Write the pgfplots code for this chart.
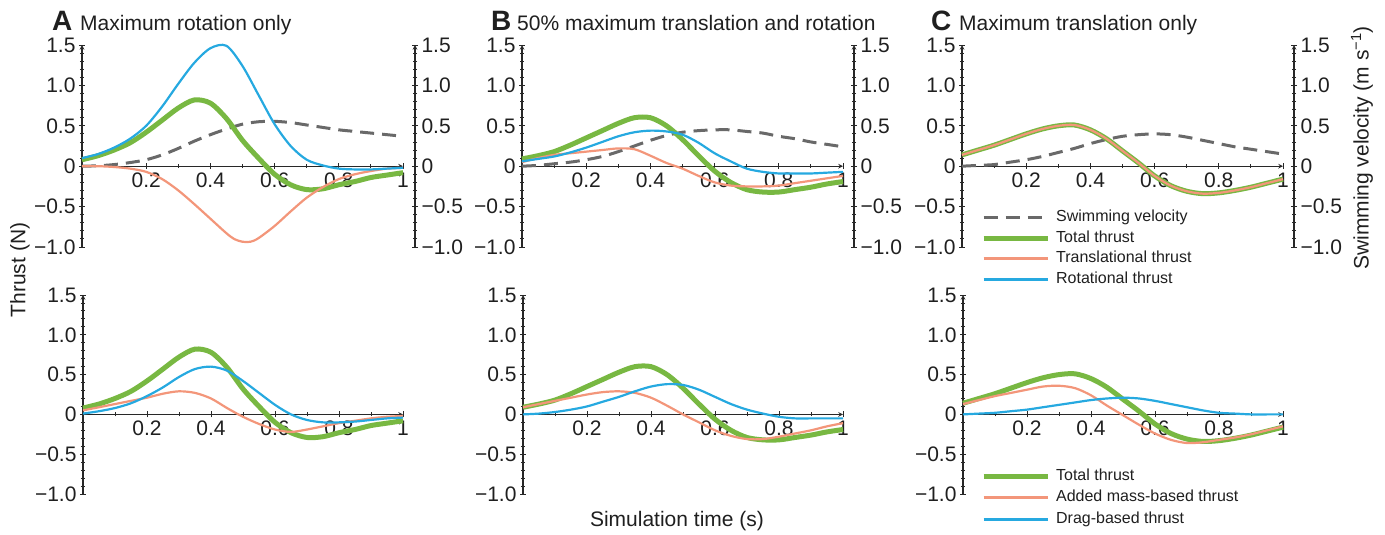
\documentclass[border=0pt]{standalone}
\usepackage{fontspec}
\setmainfont{Liberation Sans}
\usepackage{pgfplots}
\usepackage{pgfplotstable}
\pgfplotsset{compat=1.18}
\definecolor{cgreen}{RGB}{120,184,66}
\definecolor{cblue}{RGB}{38,169,224}
\definecolor{corange}{RGB}{243,150,122}
\definecolor{cgray}{RGB}{105,105,105}
\definecolor{caxis}{RGB}{40,40,40}
\newcommand\fs[1]{\fontsize{#1}{#1}\selectfont}

\pgfplotstableread{
t rot trans total vel
0.00 0.10 0.00 0.08 0.000
0.05 0.15 0.00 0.13 0.005
0.10 0.23 -0.01 0.20 0.020
0.15 0.34 -0.03 0.29 0.045
0.20 0.50 -0.07 0.42 0.080
0.25 0.74 -0.16 0.57 0.140
0.30 1.02 -0.30 0.72 0.220
0.35 1.28 -0.47 0.82 0.310
0.40 1.46 -0.65 0.78 0.390
0.45 1.49 -0.83 0.59 0.460
0.50 1.24 -0.93 0.32 0.520
0.55 0.88 -0.89 0.10 0.550
0.60 0.52 -0.74 -0.10 0.555
0.65 0.25 -0.56 -0.23 0.540
0.70 0.08 -0.39 -0.29 0.510
0.75 0.01 -0.26 -0.28 0.480
0.80 -0.03 -0.16 -0.23 0.450
0.85 -0.04 -0.10 -0.19 0.430
0.90 -0.04 -0.06 -0.14 0.410
0.95 -0.03 -0.03 -0.11 0.390
1.00 -0.02 -0.02 -0.08 0.370
}\topA

\pgfplotstableread{
t trans
0.00 0.00
0.05 0.00
0.10 -0.01
0.15 -0.03
0.20 -0.07
0.25 -0.16
0.30 -0.30
0.35 -0.47
0.40 -0.65
0.45 -0.83
0.475 -0.903
0.50 -0.935
0.525 -0.935
0.55 -0.89
0.60 -0.74
0.65 -0.56
0.70 -0.39
0.75 -0.26
0.80 -0.16
0.85 -0.10
0.90 -0.06
0.95 -0.03
1.00 -0.02
}\topAtrans

\pgfplotstableread{
t rot trans total vel
0.00 0.06 0.05 0.09 0.00
0.05 0.09 0.10 0.13 0.01
0.10 0.12 0.14 0.18 0.03
0.15 0.17 0.16 0.26 0.05
0.20 0.23 0.18 0.35 0.08
0.25 0.30 0.20 0.44 0.12
0.30 0.37 0.22 0.53 0.18
0.35 0.42 0.21 0.60 0.25
0.40 0.44 0.13 0.60 0.32
0.45 0.43 0.04 0.50 0.38
0.50 0.39 -0.03 0.33 0.42
0.55 0.29 -0.12 0.13 0.44
0.60 0.16 -0.20 -0.06 0.45
0.65 0.06 -0.24 -0.20 0.45
0.70 -0.03 -0.25 -0.29 0.43
0.75 -0.07 -0.25 -0.32 0.41
0.80 -0.09 -0.24 -0.32 0.37
0.85 -0.09 -0.21 -0.29 0.34
0.90 -0.09 -0.18 -0.26 0.30
0.95 -0.08 -0.15 -0.22 0.27
1.00 -0.07 -0.12 -0.19 0.24
}\topB

\pgfplotstableread{
t total vel
0.00 0.14 0.00
0.05 0.20 0.01
0.10 0.26 0.02
0.15 0.33 0.05
0.20 0.40 0.08
0.25 0.46 0.12
0.30 0.50 0.17
0.35 0.51 0.22
0.40 0.45 0.28
0.45 0.34 0.33
0.50 0.19 0.37
0.55 0.04 0.39
0.60 -0.12 0.40
0.65 -0.24 0.39
0.70 -0.31 0.36
0.75 -0.34 0.32
0.80 -0.33 0.28
0.85 -0.30 0.24
0.90 -0.26 0.21
0.95 -0.21 0.18
1.00 -0.16 0.15
}\topC

\pgfplotstableread{
t drag added
0.00 0.01 0.05
0.05 0.04 0.09
0.10 0.08 0.13
0.15 0.14 0.17
0.20 0.23 0.21
0.25 0.34 0.26
0.30 0.47 0.29
0.35 0.57 0.27
0.40 0.60 0.20
0.45 0.55 0.08
0.50 0.42 -0.03
0.55 0.27 -0.12
0.60 0.12 -0.19
0.65 0.00 -0.22
0.70 -0.07 -0.19
0.75 -0.10 -0.15
0.80 -0.10 -0.11
0.85 -0.09 -0.08
0.90 -0.07 -0.05
0.95 -0.05 -0.03
1.00 -0.04 -0.02
}\botA

\pgfplotstableread{
t drag added
0.00 0.00 0.09
0.05 0.01 0.13
0.10 0.03 0.17
0.15 0.06 0.21
0.20 0.10 0.25
0.25 0.16 0.28
0.30 0.22 0.29
0.35 0.29 0.27
0.40 0.35 0.21
0.45 0.38 0.11
0.50 0.37 0.00
0.55 0.31 -0.10
0.60 0.22 -0.20
0.65 0.13 -0.27
0.70 0.06 -0.31
0.75 0.01 -0.31
0.80 -0.03 -0.28
0.85 -0.05 -0.24
0.90 -0.05 -0.20
0.95 -0.05 -0.15
1.00 -0.05 -0.11
}\botB

\pgfplotstableread{
t drag added
0.00 0.00 0.13
0.05 0.01 0.18
0.10 0.02 0.23
0.15 0.04 0.27
0.20 0.06 0.31
0.25 0.09 0.35
0.30 0.12 0.36
0.35 0.15 0.33
0.40 0.18 0.24
0.45 0.20 0.11
0.50 0.21 -0.01
0.55 0.20 -0.13
0.60 0.17 -0.24
0.65 0.13 -0.32
0.70 0.09 -0.36
0.75 0.05 -0.35
0.80 0.02 -0.32
0.85 0.01 -0.29
0.90 0.00 -0.25
0.95 0.00 -0.20
1.00 0.00 -0.15
}\botC

\pgfplotsset{
  yax/.style={
    scale only axis, xmin=0, xmax=1, ymin=-1, ymax=1.5,
    axis line style={-, caxis, line width=1.1pt},
    ytick={-1,-0.5,0,0.5,1,1.5},
    yticklabels={−1.0,−0.5,0,0.5,1.0,1.5},
    minor ytick={-0.9,-0.8,-0.7,-0.6,-0.4,-0.3,-0.2,-0.1,0.1,0.2,0.3,0.4,0.6,0.7,0.8,0.9,1.1,1.2,1.3,1.4},
    tick align=inside,
    major tick length=6pt, minor tick length=4pt,
    tick style={caxis, line width=0.9pt},
    ticklabel style={font=\fs{21}, text=black!88},
    clip=false,
  },
  panel/.style={yax, height=#1,
    axis x line=middle, axis y line=left,
    xtick={0.2,0.4,0.6,0.8,1}, xticklabels={0.2,0.4,0.6,0.8,1},
    minor xtick={0.1,0.3,0.5,0.7,0.9},
  },
  rightax/.style={yax, height=#1,
    axis x line=none, axis y line=right, xtick=\empty,
  },
  gline/.style={cgreen, line width=5pt, smooth},
  oline/.style={corange, line width=2.2pt, smooth},
  bline/.style={cblue, line width=2.2pt, smooth},
  vline/.style={cgray, line width=3pt, dash pattern=on 14pt off 8pt, smooth},
  legend image code/.code={\draw[#1] (0pt,0pt) -- (64pt,0pt);},
}

\begin{document}
\begin{tikzpicture}
\path[use as bounding box] (0,0) rectangle (1385pt,535pt);

% ---------- top A ----------
\begin{axis}[panel=202pt, width=321pt, at={(82pt,288pt)}, anchor=south west]
\addplot[vline] table[x=t,y=vel]{\topA};
\addplot[gline] table[x=t,y=total]{\topA};
\addplot[oline] table[x=t,y=trans]{\topAtrans};
\addplot[bline] table[x=t,y=rot]{\topA};
\end{axis}
\begin{axis}[rightax=202pt, width=333pt, at={(82pt,288pt)}, anchor=south west]
\addplot[draw=none] coordinates {(0,0)};
\end{axis}

% ---------- top B ----------
\begin{axis}[panel=202pt, width=321pt, at={(522pt,288pt)}, anchor=south west]
\addplot[vline] table[x=t,y=vel]{\topB};
\addplot[gline] table[x=t,y=total]{\topB};
\addplot[oline] table[x=t,y=trans]{\topB};
\addplot[bline] table[x=t,y=rot]{\topB};
\end{axis}
\begin{axis}[rightax=202pt, width=332pt, at={(522pt,288pt)}, anchor=south west]
\addplot[draw=none] coordinates {(0,0)};
\end{axis}

% ---------- top C ----------
\begin{axis}[panel=202pt, width=321pt, at={(962pt,288pt)}, anchor=south west,
  legend style={at={(axis description cs:0.059,0.195)}, anchor=north west,
    draw=none, fill=none, inner sep=0pt, row sep=1.7pt, column sep=4pt,
    font=\fs{16}, text=black!88,
    nodes={inner sep=2pt, text height=11.5pt, text depth=3.5pt}},
  legend cell align=left]
\addlegendimage{cgray, line width=3pt, dash pattern=on 14pt off 8pt}
\addlegendentry{Swimming velocity}
\addlegendimage{cgreen, line width=5pt}
\addlegendentry{Total thrust}
\addlegendimage{corange, line width=3pt}
\addlegendentry{Translational thrust}
\addlegendimage{cblue, line width=3pt}
\addlegendentry{Rotational thrust}
\addplot[vline, forget plot] table[x=t,y=vel]{\topC};
\addplot[gline, forget plot] table[x=t,y=total]{\topC};
\addplot[oline, forget plot] table[x=t,y=total]{\topC};
\end{axis}
\begin{axis}[rightax=202pt, width=332pt, at={(962pt,288pt)}, anchor=south west]
\addplot[draw=none] coordinates {(0,0)};
\end{axis}

% ---------- bottom A ----------
\begin{axis}[panel=199pt, width=320pt, at={(83pt,41pt)}, anchor=south west]
\addplot[gline] table[x=t,y=total]{\topA};
\addplot[oline] table[x=t,y=added]{\botA};
\addplot[bline] table[x=t,y=drag]{\botA};
\end{axis}

% ---------- bottom B ----------
\begin{axis}[panel=199pt, width=320pt, at={(523pt,41pt)}, anchor=south west]
\addplot[gline] table[x=t,y=total]{\topB};
\addplot[oline] table[x=t,y=added]{\botB};
\addplot[bline] table[x=t,y=drag]{\botB};
\end{axis}

% ---------- bottom C ----------
\begin{axis}[panel=199pt, width=320pt, at={(963pt,41pt)}, anchor=south west,
  legend style={at={(axis description cs:0.056,0.138)}, anchor=north west,
    draw=none, fill=none, inner sep=0pt, row sep=2.5pt, column sep=4pt,
    font=\fs{16}, text=black!88,
    nodes={inner sep=2pt, text height=11.5pt, text depth=3.5pt}},
  legend cell align=left]
\addlegendimage{cgreen, line width=5pt}
\addlegendentry{Total thrust}
\addlegendimage{corange, line width=3pt}
\addlegendentry{Added mass-based thrust}
\addlegendimage{cblue, line width=3pt}
\addlegendentry{Drag-based thrust}
\addplot[gline, forget plot] table[x=t,y=total]{\topC};
\addplot[oline, forget plot] table[x=t,y=added]{\botC};
\addplot[bline, forget plot] table[x=t,y=drag]{\botC};
\end{axis}

% ---------- titles and labels ----------
\node[anchor=base west, inner sep=0pt, text=black!88] at (52pt,504pt) {\fs{28}\bfseries A};
\node[anchor=base west, inner sep=0pt, text=black!88] at (80pt,504pt) {\fs{21}Maximum rotation only};
\node[anchor=base west, inner sep=0pt, text=black!88] at (491pt,504pt) {\fs{28}\bfseries B};
\node[anchor=base west, inner sep=0pt, text=black!88] at (517pt,504pt) {\fs{21}50\% maximum translation and rotation};
\node[anchor=base west, inner sep=0pt, text=black!88] at (931pt,504pt) {\fs{28}\bfseries C};
\node[anchor=base west, inner sep=0pt, text=black!88] at (959pt,504pt) {\fs{21}Maximum translation only};
\node[rotate=90, inner sep=0pt, text=black!88] at (20pt,265pt) {\fs{21}Thrust (N)};
\node[anchor=base, inner sep=0pt, text=black!88] at (677pt,8pt) {\fs{21}Simulation time (s)};
\node[rotate=90, inner sep=0pt, text=black!88] at (1362pt,387pt) {\fs{21}Swimming velocity (m s\textsuperscript{−1})};
\end{tikzpicture}
\end{document}
